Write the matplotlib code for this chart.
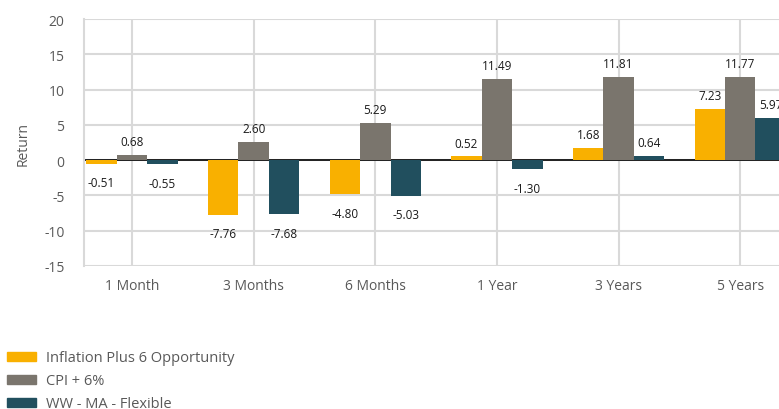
import matplotlib
matplotlib.use("Agg")
import matplotlib.pyplot as plt
import numpy as np
from matplotlib.patches import Patch

periods = ["1 Month", "3 Months", "6 Months", "1 Year", "3 Years", "5 Years"]
series_names = ["Inflation Plus 6 Opportunity", "CPI + 6%", "WW - MA - Flexible"]
inflation_plus = [-0.51, -7.76, -4.80, 0.52, 1.68, 7.23]
cpi_plus = [0.68, 2.60, 5.29, 11.49, 11.81, 11.77]
ww_flexible = [-0.55, -7.68, -5.03, -1.30, 0.64, 5.97]
colors = ["#F9B000", "#7A756D", "#214F5E"]

plt.rcParams['font.family'] = ['Open Sans', 'DejaVu Sans']
plt.rcParams['axes.unicode_minus'] = False

fig = plt.figure(figsize=(7.79, 4.10), dpi=100)
ax = fig.add_axes([84 / 779, 1 - 267 / 410, (801 - 84) / 779, (267 - 20) / 410])

x = np.arange(len(periods))
w = 0.25
for i, (vals, col) in enumerate(zip([inflation_plus, cpi_plus, ww_flexible], colors)):
    xs = x + (i - 1) * w
    ax.bar(xs, vals, width=w, color=col, zorder=3)
    for xi, v in zip(xs, vals):
        if v >= 0:
            ax.annotate(f"{v:.2f}", (xi, v), xytext=(0, 5), textcoords="offset points",
                        ha="center", va="bottom", fontsize=8.5, color="#1a1a1a")
        else:
            ax.annotate(f"{v:.2f}", (xi, v), xytext=(0, -9), textcoords="offset points",
                        ha="center", va="top", fontsize=8.5, color="#1a1a1a")

ax.axhline(0, color="black", lw=1.2, zorder=2)
ax.set_xlim(-0.395, 5.5)
ax.set_ylim(-15, 20)
ax.set_yticks(range(-15, 21, 5))
ax.set_xticks(x)
ax.set_xticklabels(periods)
ax.grid(True, color="#D9D9D9", lw=1.5, zorder=0)
for s in ["top", "right", "bottom"]:
    ax.spines[s].set_visible(False)
ax.spines["left"].set_color("#D9D9D9")
ax.spines["left"].set_linewidth(1.5)
ax.tick_params(length=0, colors="#595959", labelsize=10)
ax.tick_params(axis="y", pad=14)
ax.tick_params(axis="x", pad=9)
ax.set_ylabel("Return", color="#595959", fontsize=10, labelpad=10)

handles = [Patch(color=c) for c in colors]
fig.legend(handles, series_names, loc="lower left", bbox_to_anchor=(-0.008, -0.038),
           frameon=False, fontsize=10.5, handlelength=2.0, handleheight=0.6,
           labelspacing=0.55, handletextpad=0.7, labelcolor="#595959")

fig.savefig("out.png", dpi=100)
